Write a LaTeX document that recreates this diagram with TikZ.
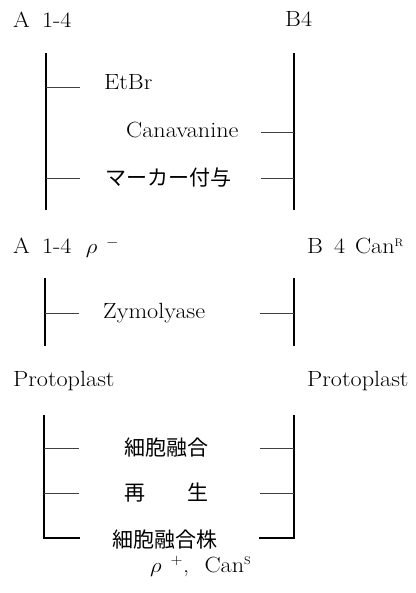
\documentclass[tikz,border=0pt]{standalone}
\usepackage{fontspec}
\newfontfamily\jp{Noto Sans CJK JP}
\newcommand{\wtxt}[1]{\scalebox{1.1}[1]{#1}}
\begin{document}
\begin{tikzpicture}[x=1pt,y=-1pt,
  lbl/.style={inner sep=0pt, anchor=base west, font=\fontsize{22}{24}\selectfont},
  jlbl/.style={inner sep=0pt, anchor=west, font=\fontsize{21}{22}\selectfont\jp},
  bar/.style={line width=2.4pt},
  tick/.style={line width=0.8pt, black!75}]
\useasboundingbox (0,0) rectangle (415,593);
% top labels
\node[lbl] (a1) at (13,28) {\wtxt{A\hspace{11pt}1-4}};
\node[lbl] (b1) at (285,27) {\wtxt{B4}};
% bracket 1
\coordinate (l1t) at (46,53); \coordinate (l1b) at (46,210);
\coordinate (r1t) at (294,53); \coordinate (r1b) at (294,210);
\draw[bar] (l1t) -- (l1b);
\draw[bar] (r1t) -- (r1b);
\node[lbl] (etbr) at (104,90) {\wtxt{EtBr}};
\node[lbl] (cana) at (126,138) {\wtxt{Canavanine}};
\node[jlbl] (mark) at (105,178) {マーカー付与};
\coordinate (t1a) at (46,87); \coordinate (t1b) at (80,87);
\coordinate (t2a) at (261,132); \coordinate (t2b) at (294,132);
\coordinate (t3a) at (46,178); \coordinate (t3b) at (80,178);
\coordinate (t4a) at (261,178); \coordinate (t4b) at (294,178);
\draw[tick] (t1a) -- (t1b);
\draw[tick] (t2a) -- (t2b);
\draw[tick] (t3a) -- (t3b);
\draw[tick] (t4a) -- (t4b);
% second labels
\node[lbl] (a2) at (13,254) {\wtxt{A\hspace{11pt}1-4\hspace{13pt}$\rho^{\;\;-}$}};
\node[lbl] (b2) at (307,254) {\wtxt{B\hspace{10pt}4\hspace{9pt}Can\textsuperscript{\fontsize{11}{12}\selectfont R}}};
% bracket 2
\coordinate (l2t) at (45,278); \coordinate (l2b) at (45,346);
\coordinate (r2t) at (294,278); \coordinate (r2b) at (294,346);
\draw[bar] (l2t) -- (l2b);
\draw[bar] (r2t) -- (r2b);
\node[lbl] (zymo) at (103,318) {\wtxt{Zymolyase}};
\coordinate (t5a) at (45,313); \coordinate (t5b) at (79,313);
\coordinate (t6a) at (260,313); \coordinate (t6b) at (294,313);
\draw[tick] (t5a) -- (t5b);
\draw[tick] (t6a) -- (t6b);
% protoplast
\node[lbl] (pl) at (13,386) {\wtxt{Protoplast}};
\node[lbl] (pr) at (307,386) {\wtxt{Protoplast}};
% bracket 3
\coordinate (l3t) at (44,415); \coordinate (l3b) at (44,538); \coordinate (l3e) at (80,538);
\coordinate (r3t) at (294,415); \coordinate (r3b) at (294,538); \coordinate (r3e) at (259,538);
\draw[bar] (l3t) -- (l3b) -- (l3e);
\draw[bar] (r3t) -- (r3b) -- (r3e);
\node[jlbl] (fus) at (124,448) {細胞融合};
\node[jlbl] (reg) at (124,493) {再　　生};
\node[jlbl] (fst) at (112,540) {細胞融合株};
\coordinate (t7a) at (44,448); \coordinate (t7b) at (79,448);
\coordinate (t8a) at (260,448); \coordinate (t8b) at (294,448);
\coordinate (t9a) at (44,493); \coordinate (t9b) at (79,493);
\coordinate (t10a) at (260,493); \coordinate (t10b) at (294,493);
\draw[tick] (t7a) -- (t7b);
\draw[tick] (t8a) -- (t8b);
\draw[tick] (t9a) -- (t9b);
\draw[tick] (t10a) -- (t10b);
\node[lbl] (res) at (150,572) {\wtxt{$\rho^{\;\;+}$,\hspace{14pt}Can\textsuperscript{\fontsize{11}{12}\selectfont S}}};
\end{tikzpicture}
\end{document}
